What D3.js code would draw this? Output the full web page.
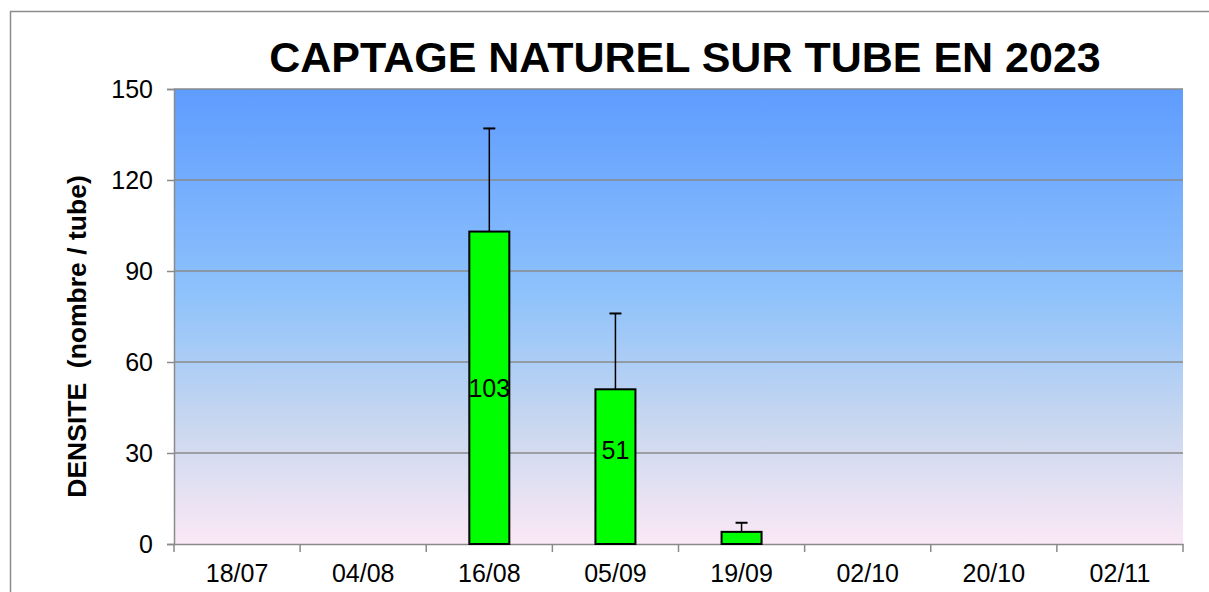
<!DOCTYPE html>
<html>
<head>
<meta charset="utf-8">
<script src="https://cdn.jsdelivr.net/npm/d3@7"></script>
<style>
  body { margin: 0; background: #fff; }
  svg { display: block; font-family: "Liberation Sans", Arial, sans-serif; }
</style>
</head>
<body>
<div id="chart"></div>
<script>
// captage naturel sur tube - 2023
var dates = ["18/07", "04/08", "16/08", "05/09", "19/09", "02/10", "20/10", "02/11"];
var densite = [0, 0, 103, 51, 4, 0, 0, 0];
var erreur = [0, 0, 34, 25, 3, 0, 0, 0];
var yTicks = [0, 30, 60, 90, 120, 150];
// hauteur (en unites de densite) ou est posee l'etiquette
var posEtiquette = [0, 0, 51.5, 31, 0, 0, 0, 0];

var W = 1209, H = 592;
var plot = { left: 174, top: 89, right: 1183, bottom: 544 };

var svg = d3.select("#chart").append("svg")
    .attr("width", W)
    .attr("height", H);

// cadre
svg.append("rect")
    .attr("x", 10.5).attr("y", 11.5)
    .attr("width", 1240).attr("height", 700)
    .attr("fill", "#fff")
    .attr("stroke", "#8c8c8c").attr("stroke-width", 1.5);

var defs = svg.append("defs");
var grad = defs.append("linearGradient")
    .attr("id", "fond")
    .attr("x1", 0).attr("y1", 0).attr("x2", 0).attr("y2", 1);
grad.append("stop").attr("offset", "0%").attr("stop-color", "#5e9cff");
grad.append("stop").attr("offset", "45%").attr("stop-color", "#8ec2fb");
grad.append("stop").attr("offset", "75%").attr("stop-color", "#cbd8ef");
grad.append("stop").attr("offset", "100%").attr("stop-color", "#fbe8f6");

var x = d3.scaleBand()
    .domain(dates)
    .range([plot.left, plot.right]);

var y = d3.scaleLinear()
    .domain([0, 150])
    .range([plot.bottom, plot.top]);

svg.append("rect")
    .attr("x", plot.left).attr("y", plot.top)
    .attr("width", plot.right - plot.left)
    .attr("height", plot.bottom - plot.top)
    .attr("fill", "url(#fond)");

// grille
svg.append("g").selectAll("line")
    .data(yTicks.slice(1))
    .join("line")
    .attr("x1", plot.left).attr("x2", plot.right)
    .attr("y1", function(d){ return y(d); })
    .attr("y2", function(d){ return y(d); })
    .attr("stroke", "#8a8a8a").attr("stroke-width", 1.5);

// axe Y
var yAxis = svg.append("g")
    .attr("transform", "translate(" + plot.left + ",0)")
    .call(d3.axisLeft(y).tickValues(yTicks).tickSize(7).tickPadding(14));
yAxis.select(".domain").attr("stroke", "#8a8a8a").attr("stroke-width", 1.5);
yAxis.selectAll(".tick line").attr("stroke", "#8a8a8a").attr("stroke-width", 1.5);
yAxis.attr("font-size", 25).attr("font-family", "Liberation Sans, Arial, sans-serif");
yAxis.selectAll("text").attr("fill", "#000").attr("dy", "0.35em");

// axe X
var xAxis = svg.append("g")
    .attr("transform", "translate(0," + plot.bottom + ")")
    .call(d3.axisBottom(x).tickSize(0).tickPadding(20));
xAxis.select(".domain").attr("stroke", "#8a8a8a").attr("stroke-width", 1.5);
xAxis.attr("font-size", 25).attr("font-family", "Liberation Sans, Arial, sans-serif");
xAxis.selectAll("text").attr("fill", "#000");

// graduations entre categories
var bords = dates.map(function(d){ return x(d); }).concat([plot.right]);
svg.append("g").selectAll("line")
    .data(bords)
    .join("line")
    .attr("x1", function(d){ return d; }).attr("x2", function(d){ return d; })
    .attr("y1", plot.bottom).attr("y2", plot.bottom + 8)
    .attr("stroke", "#8a8a8a").attr("stroke-width", 1.5);

var barW = 40;
var cx = function(d){ return x(d) + x.bandwidth() / 2; };

// barres d'erreur
var err = svg.append("g");
dates.forEach(function(d, i){
    if (!erreur[i]) return;
    var top = y(densite[i] + erreur[i]);
    err.append("line")
        .attr("x1", cx(d)).attr("x2", cx(d))
        .attr("y1", y(densite[i])).attr("y2", top)
        .attr("stroke", "#000").attr("stroke-width", 1.5);
    err.append("line")
        .attr("x1", cx(d) - 6).attr("x2", cx(d) + 6)
        .attr("y1", top).attr("y2", top)
        .attr("stroke", "#000").attr("stroke-width", 2);
});

// barres
svg.append("g").selectAll("rect")
    .data(dates)
    .join("rect")
    .attr("x", function(d){ return cx(d) - barW / 2; })
    .attr("y", function(d, i){ return y(densite[i]); })
    .attr("width", barW)
    .attr("height", function(d, i){ return y(0) - y(densite[i]); })
    .attr("fill", "#00ff00")
    .attr("stroke", function(d, i){ return densite[i] ? "#000" : "#999"; })
    .attr("stroke-width", function(d, i){ return densite[i] ? 2 : 0.6; });

// etiquettes
svg.append("g").selectAll("text")
    .data(dates.filter(function(d, i){ return posEtiquette[i] > 0; }))
    .join("text")
    .attr("x", cx)
    .attr("y", function(d){ return y(posEtiquette[dates.indexOf(d)]); })
    .attr("dy", "0.35em")
    .attr("text-anchor", "middle")
    .attr("font-size", 25)
    .text(function(d){ return densite[dates.indexOf(d)]; });

// titre
svg.append("text")
    .attr("x", 685).attr("y", 72)
    .attr("text-anchor", "middle")
    .attr("font-size", 43).attr("font-weight", "bold")
    .text("CAPTAGE NATUREL SUR TUBE EN 2023");

svg.append("text")
    .attr("transform", "translate(86," + ((plot.top + plot.bottom) / 2 + 20) + ") rotate(-90)")
    .attr("text-anchor", "middle")
    .attr("font-size", 26.5).attr("font-weight", "bold")
    .attr("xml:space", "preserve")
    .style("white-space", "pre")
    .text("DENSITE  (nombre / tube)");
</script>
</body>
</html>
